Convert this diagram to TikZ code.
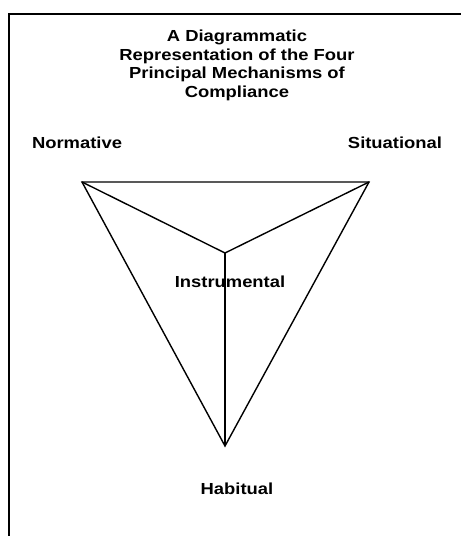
\documentclass[tikz,border=0pt]{standalone}
\usepackage{fontspec}
\setmainfont{Liberation Sans}[FakeStretch=1.15]
\usepackage{tikz}
\usetikzlibrary{positioning,calc}
\tikzset{
  labeltext/.style={
    align=center,
    inner sep=0pt,
    font=\fontsize{16bp}{18.6bp}\selectfont\bfseries
  },
  edge/.style={draw=black,line width=1.4bp,line join=miter},
  framedge/.style={draw=black,line width=1.6bp}
}

\begin{document}
\begin{tikzpicture}[x=1bp,y=-1bp]
  \useasboundingbox (0,0) rectangle (461,536);
  % frame, cut by the page on the right and below
  \draw[framedge] (461,14) -- (9,14) -- (9,536);
  \node[labeltext] (title) at (237,65.5) {
    A Diagrammatic\\Representation of the Four\\
    Principal Mechanisms of\\Compliance
  };
  \node[labeltext] (normative) at (77,143) {Normative};
  \node[labeltext] (situational) at (395,143) {Situational};
  \node[labeltext] (instrumental) at (230,282) {Instrumental};
  \node[labeltext] (habitual) at (237,489) {Habitual};
  % corners of the pyramid
  \coordinate (nv) at (82,182);
  \coordinate (sv) at (369,182);
  \coordinate (iv) at (225,253);
  \coordinate (hv) at (225,446);
  \draw[edge] (nv) -- (sv) -- (hv) -- cycle;
  \draw[edge] (nv) -- (iv);
  \draw[edge] (sv) -- (iv);
  \draw[edge] (iv) -- (hv);
\end{tikzpicture}
\end{document}
